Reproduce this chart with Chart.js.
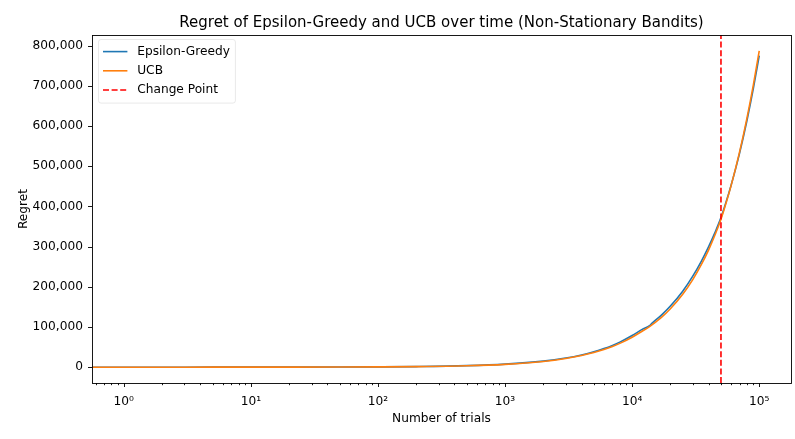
<!DOCTYPE html>
<html>
<head>
<meta charset="utf-8">
<title>Regret over time</title>
<script src="https://cdn.jsdelivr.net/npm/chart.js@4.4.1/dist/chart.umd.min.js"></script>
<style>
  html, body { margin: 0; padding: 0; background: #fff; }
  #regretChart { display: block; }
</style>
</head>
<body>
<canvas id="regretChart" width="795" height="439"></canvas>
<script>
// Trial counts where cumulative regret was sampled (trial 0 sits on the left edge of the log axis)
const trials = [0, 1, 2, 3, 5, 10, 20, 50, 100, 200, 500, 1000, 2000, 3000, 4000, 5000, 6000, 7000, 8000,
    10000, 12000, 13800, 14300, 17000, 20000, 25000, 30000, 35000, 40000, 45000, 50000, 55000, 60000,
    70000, 80000, 90000, 100000];

const epsilonGreedyRegret = [0, 0, 8, 15, 30, 68, 145, 370, 745, 1500, 3760, 7550, 15100, 22800, 30500, 38300,
    46200, 54200, 62300, 78800, 94000, 104000, 109000, 129500, 152000, 189000, 226500, 263500, 300000,
    336000, 372000, 412000, 452000, 532000, 613000, 694000, 775000];

const ucbRegret = [0, 0, 6, 12, 25, 58, 125, 330, 680, 1380, 3500, 7100, 14300, 21700, 29100, 36600, 44100,
    51600, 59200, 74500, 89500, 101500, 105000, 124000, 145500, 181500, 218000, 255000, 292000, 330000,
    368000, 409500, 451000, 535000, 619000, 703000, 787000];

const changePoint = 50000;

const xTickValues = [1, 10, 100, 1000, 10000, 100000];
const xTickLabels = ['10⁰', '10¹', '10²', '10³', '10⁴', '10⁵'];
const yTickValues = [0, 100000, 200000, 300000, 400000, 500000, 600000, 700000, 800000];

// Axis limits with the usual 5% margin around the data
const xMin = Math.pow(10, -0.25);
const xMax = Math.pow(10, 5.25);
const yMin = -39350;
const yMax = 826350;

const FONT = '"DejaVu Sans", sans-serif';

const toPoints = (xs, ys) => xs.map((t, i) => ({ x: t, y: ys[i] }));

// Minor tick positions (2..9 x 10^n) inside the x range
function minorTicks() {
    const out = [];
    for (let e = -1; e <= 5; e++) {
        for (let m = 2; m <= 9; m++) {
            const v = m * Math.pow(10, e);
            if (v > xMin && v < xMax) out.push(v);
        }
    }
    return out;
}

// Box around the plot, tick marks, titles and the legend inside the axes
const axesDecor = {
    id: 'axesDecor',
    afterDraw(chart) {
        const { ctx, chartArea: a, scales: { x, y } } = chart;
        ctx.save();
        ctx.strokeStyle = '#000';
        ctx.lineWidth = 0.9;

        ctx.beginPath();
        xTickValues.forEach(v => {
            const px = Math.round(x.getPixelForValue(v)) + 0.5;
            ctx.moveTo(px, a.bottom);
            ctx.lineTo(px, a.bottom + 4);
        });
        minorTicks().forEach(v => {
            const px = Math.round(x.getPixelForValue(v)) + 0.5;
            ctx.moveTo(px, a.bottom);
            ctx.lineTo(px, a.bottom + 2.2);
        });
        yTickValues.forEach(v => {
            const py = Math.round(y.getPixelForValue(v)) + 0.5;
            ctx.moveTo(a.left, py);
            ctx.lineTo(a.left - 4, py);
        });
        ctx.stroke();

        ctx.strokeRect(Math.round(a.left) + 0.5, Math.round(a.top) + 0.5,
            Math.round(a.right - a.left), Math.round(a.bottom - a.top));

        // titles
        ctx.fillStyle = '#000';
        ctx.textAlign = 'center';
        ctx.textBaseline = 'alphabetic';
        const cx = (a.left + a.right) / 2;
        ctx.font = '15px ' + FONT;
        ctx.fillText('Regret of Epsilon-Greedy and UCB over time (Non-Stationary Bandits)', cx, 27);
        ctx.font = '12.2px ' + FONT;
        ctx.fillText('Number of trials', cx, 422);
        ctx.save();
        ctx.translate(27, (a.top + a.bottom) / 2);
        ctx.rotate(-Math.PI / 2);
        ctx.fillText('Regret', 0, 0);
        ctx.restore();

        // legend, entries in dataset order
        const sets = chart.data.datasets;
        const lx = a.left + 6, ly = a.top + 4;
        const rowH = 19.2;
        ctx.font = '12.2px ' + FONT;
        const textW = Math.max(...sets.map(d => ctx.measureText(d.label).width));
        const boxW = 5 + 24.4 + 9.8 + textW + 5;
        const boxH = 3 + rowH * sets.length + 3;
        ctx.fillStyle = 'rgba(255,255,255,0.8)';
        ctx.strokeStyle = 'rgba(225,225,225,0.8)';
        ctx.lineWidth = 0.9;
        ctx.beginPath();
        ctx.roundRect(lx + 0.5, ly + 0.5, boxW, boxH, 2.5);
        ctx.fill();
        ctx.stroke();

        ctx.textAlign = 'left';
        ctx.textBaseline = 'middle';
        sets.forEach((d, i) => {
            const rowY = ly + 3 + rowH * i + rowH / 2;
            ctx.strokeStyle = d.borderColor;
            ctx.lineWidth = d.borderWidth;
            ctx.setLineDash(d.borderDash || []);
            ctx.beginPath();
            ctx.moveTo(lx + 5, rowY);
            ctx.lineTo(lx + 5 + 24.4, rowY);
            ctx.stroke();
            ctx.setLineDash([]);
            ctx.fillStyle = '#000';
            ctx.fillText(d.label, lx + 5 + 24.4 + 9.8, rowY);
        });
        ctx.restore();
    }
};

new Chart(document.getElementById('regretChart'), {
    type: 'line',
    data: {
        datasets: [
            {
                label: 'Epsilon-Greedy',
                data: toPoints(trials, epsilonGreedyRegret),
                borderColor: '#1f77b4',
                borderWidth: 1.6,
                pointRadius: 0,
                cubicInterpolationMode: 'monotone',
                order: 3
            },
            {
                label: 'UCB',
                data: toPoints(trials, ucbRegret),
                borderColor: '#ff7f0e',
                borderWidth: 1.6,
                pointRadius: 0,
                cubicInterpolationMode: 'monotone',
                order: 2
            },
            {
                label: 'Change Point',
                data: [{ x: changePoint, y: yMin }, { x: changePoint, y: yMax }],
                borderColor: '#ff0000',
                borderWidth: 1.6,
                borderDash: [6, 2.6],
                pointRadius: 0,
                order: 1
            }
        ]
    },
    options: {
        responsive: false,
        animation: false,
        devicePixelRatio: 1,
        layout: { padding: { top: 35, right: 4, left: 0, bottom: 0 } },
        plugins: {
            legend: { display: false },
            title: { display: false },
            tooltip: { enabled: false }
        },
        scales: {
            x: {
                type: 'logarithmic',
                min: xMin,
                max: xMax,
                grid: { display: false, drawTicks: false },
                border: { display: false },
                afterBuildTicks: scale => { scale.ticks = xTickValues.map(v => ({ value: v })); },
                afterFit: scale => { scale.height = 56; },
                ticks: {
                    autoSkip: false,
                    maxRotation: 0,
                    padding: 12,
                    color: '#000',
                    font: { family: FONT, size: 12.2 },
                    callback: value => {
                        const i = xTickValues.indexOf(value);
                        return i >= 0 ? xTickLabels[i] : '';
                    }
                }
            },
            y: {
                type: 'linear',
                min: yMin,
                max: yMax,
                grid: { display: false, drawTicks: false },
                border: { display: false },
                afterBuildTicks: scale => { scale.ticks = yTickValues.map(v => ({ value: v })); },
                afterFit: scale => { scale.width = 92; },
                ticks: {
                    padding: 9,
                    color: '#000',
                    font: { family: FONT, size: 12.2 },
                    callback: value => value.toLocaleString('en-US')
                }
            }
        }
    },
    plugins: [axesDecor]
});
</script>
</body>
</html>
